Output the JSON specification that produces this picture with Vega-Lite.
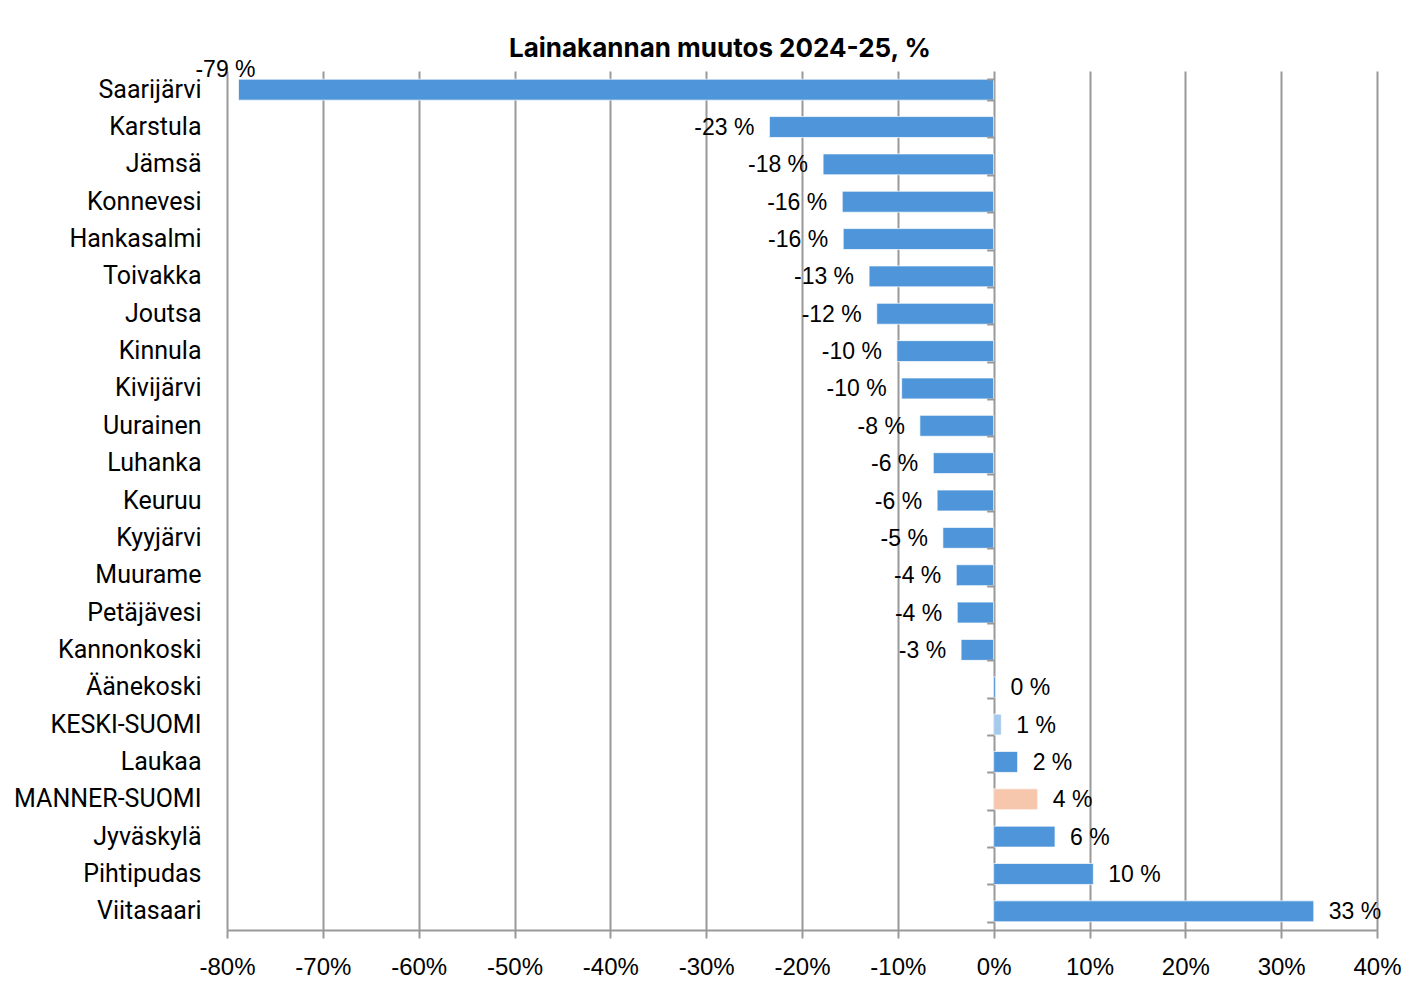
{
  "$schema": "https://vega.github.io/schema/vega-lite/v6.json",
  "autosize": {"type": "none"},
  "width": 1150,
  "height": 859,
  "padding": {"left": 227, "top": 71, "right": 38, "bottom": 64},
  "background": "white",
  "config": {"view": {"stroke": null}},
  "title": {
    "text": "Lainakannan muutos 2024-25, %",
    "font": "Inter",
    "fontSize": 26,
    "fontWeight": "bold",
    "color": "#000000",
    "anchor": "middle",
    "dx": -82,
    "offset": -3
  },
  "data": {
    "values": [
      {"kunta": "Saarijärvi", "muutos": -78.8, "teksti": "-79 %", "ryhma": "kunta"},
      {"kunta": "Karstula", "muutos": -23.4, "teksti": "-23 %", "ryhma": "kunta"},
      {"kunta": "Jämsä", "muutos": -17.8, "teksti": "-18 %", "ryhma": "kunta"},
      {"kunta": "Konnevesi", "muutos": -15.8, "teksti": "-16 %", "ryhma": "kunta"},
      {"kunta": "Hankasalmi", "muutos": -15.7, "teksti": "-16 %", "ryhma": "kunta"},
      {"kunta": "Toivakka", "muutos": -13.0, "teksti": "-13 %", "ryhma": "kunta"},
      {"kunta": "Joutsa", "muutos": -12.2, "teksti": "-12 %", "ryhma": "kunta"},
      {"kunta": "Kinnula", "muutos": -10.1, "teksti": "-10 %", "ryhma": "kunta"},
      {"kunta": "Kivijärvi", "muutos": -9.6, "teksti": "-10 %", "ryhma": "kunta"},
      {"kunta": "Uurainen", "muutos": -7.7, "teksti": "-8 %", "ryhma": "kunta"},
      {"kunta": "Luhanka", "muutos": -6.3, "teksti": "-6 %", "ryhma": "kunta"},
      {"kunta": "Keuruu", "muutos": -5.9, "teksti": "-6 %", "ryhma": "kunta"},
      {"kunta": "Kyyjärvi", "muutos": -5.3, "teksti": "-5 %", "ryhma": "kunta"},
      {"kunta": "Muurame", "muutos": -3.9, "teksti": "-4 %", "ryhma": "kunta"},
      {"kunta": "Petäjävesi", "muutos": -3.8, "teksti": "-4 %", "ryhma": "kunta"},
      {"kunta": "Kannonkoski", "muutos": -3.4, "teksti": "-3 %", "ryhma": "kunta"},
      {"kunta": "Äänekoski", "muutos": 0.2, "teksti": "0 %", "ryhma": "kunta"},
      {"kunta": "KESKI-SUOMI", "muutos": 0.8, "teksti": "1 %", "ryhma": "maakunta"},
      {"kunta": "Laukaa", "muutos": 2.5, "teksti": "2 %", "ryhma": "kunta"},
      {"kunta": "MANNER-SUOMI", "muutos": 4.6, "teksti": "4 %", "ryhma": "manner"},
      {"kunta": "Jyväskylä", "muutos": 6.4, "teksti": "6 %", "ryhma": "kunta"},
      {"kunta": "Pihtipudas", "muutos": 10.4, "teksti": "10 %", "ryhma": "kunta"},
      {"kunta": "Viitasaari", "muutos": 33.4, "teksti": "33 %", "ryhma": "kunta"}
    ]
  },
  "encoding": {
    "y": {
      "field": "kunta",
      "type": "nominal",
      "sort": null,
      "scale": {"paddingInner": 0.44, "paddingOuter": 0.22},
      "axis": null
    },
    "x": {
      "field": "muutos",
      "type": "quantitative",
      "scale": {"domain": [-80, 40], "nice": false, "zero": false},
      "axis": {
        "title": null,
        "values": [-80, -70, -60, -50, -40, -30, -20, -10, 0, 10, 20, 30, 40],
        "labelExpr": "datum.value + '%'",
        "labelFlush": false,
        "labelOverlap": false,
        "grid": true, "gridColor": "#999999", "gridWidth": 2,
        "domain": true, "domainColor": "#999999", "domainWidth": 2,
        "ticks": true, "tickColor": "#999999", "tickWidth": 2, "tickSize": 8,
        "labelFont": "Liberation Sans", "labelFontSize": 24, "labelColor": "#000000",
        "labelPadding": 17
      }
    }
  },
  "layer": [
    {
      "mark": {"type": "bar", "stroke": "white", "strokeWidth": 1, "strokeOpacity": 0.7},
      "encoding": {
        "y": {
          "field": "kunta", "type": "nominal", "sort": null,
          "scale": {"paddingInner": 0.44, "paddingOuter": 0.22},
          "axis": {
            "title": null, "domain": false, "ticks": false, "grid": false,
            "labelPadding": 26, "labelFont": "Roboto", "labelFontSize": 25,
            "labelColor": "#000000", "orient": "left", "labelLimit": 400
          }
        },
        "color": {
          "field": "ryhma", "type": "nominal", "legend": null,
          "scale": {"domain": ["kunta", "maakunta", "manner"], "range": ["#4E95D9", "#A6CAEC", "#F6C6AD"]}
        }
      }
    },
    {
      "mark": {"type": "tick", "opacity": 0},
      "encoding": {
        "y": {
          "field": "kunta", "type": "nominal", "sort": null,
          "scale": {"paddingInner": 0.44, "paddingOuter": 0.22},
          "axis": {
            "title": null, "orient": "left", "offset": -766.67,
            "labels": false, "domain": false, "grid": false, "zindex": 1,
            "ticks": true, "tickBand": "extent", "tickColor": "#999999", "tickWidth": 2, "tickSize": 7
          }
        }
      }
    },
    {
      "transform": [{"filter": "datum.muutos < 0 && datum.kunta != 'Saarijärvi'"}],
      "mark": {"type": "text", "align": "right", "dx": -15, "dy": 1, "font": "Liberation Sans", "fontSize": 23, "color": "#000000"},
      "encoding": {"text": {"field": "teksti"}}
    },
    {
      "transform": [{"filter": "datum.muutos >= 0"}],
      "mark": {"type": "text", "align": "left", "dx": 15, "dy": 1, "font": "Liberation Sans", "fontSize": 23, "color": "#000000"},
      "encoding": {"text": {"field": "teksti"}}
    },
    {
      "transform": [{"filter": "datum.kunta == 'Saarijärvi'"}],
      "mark": {"type": "text", "align": "center", "dx": -13, "dy": -20, "font": "Liberation Sans", "fontSize": 23, "color": "#000000"},
      "encoding": {"text": {"field": "teksti"}}
    }
  ],
  "resolve": {"axis": {"y": "independent"}}
}
